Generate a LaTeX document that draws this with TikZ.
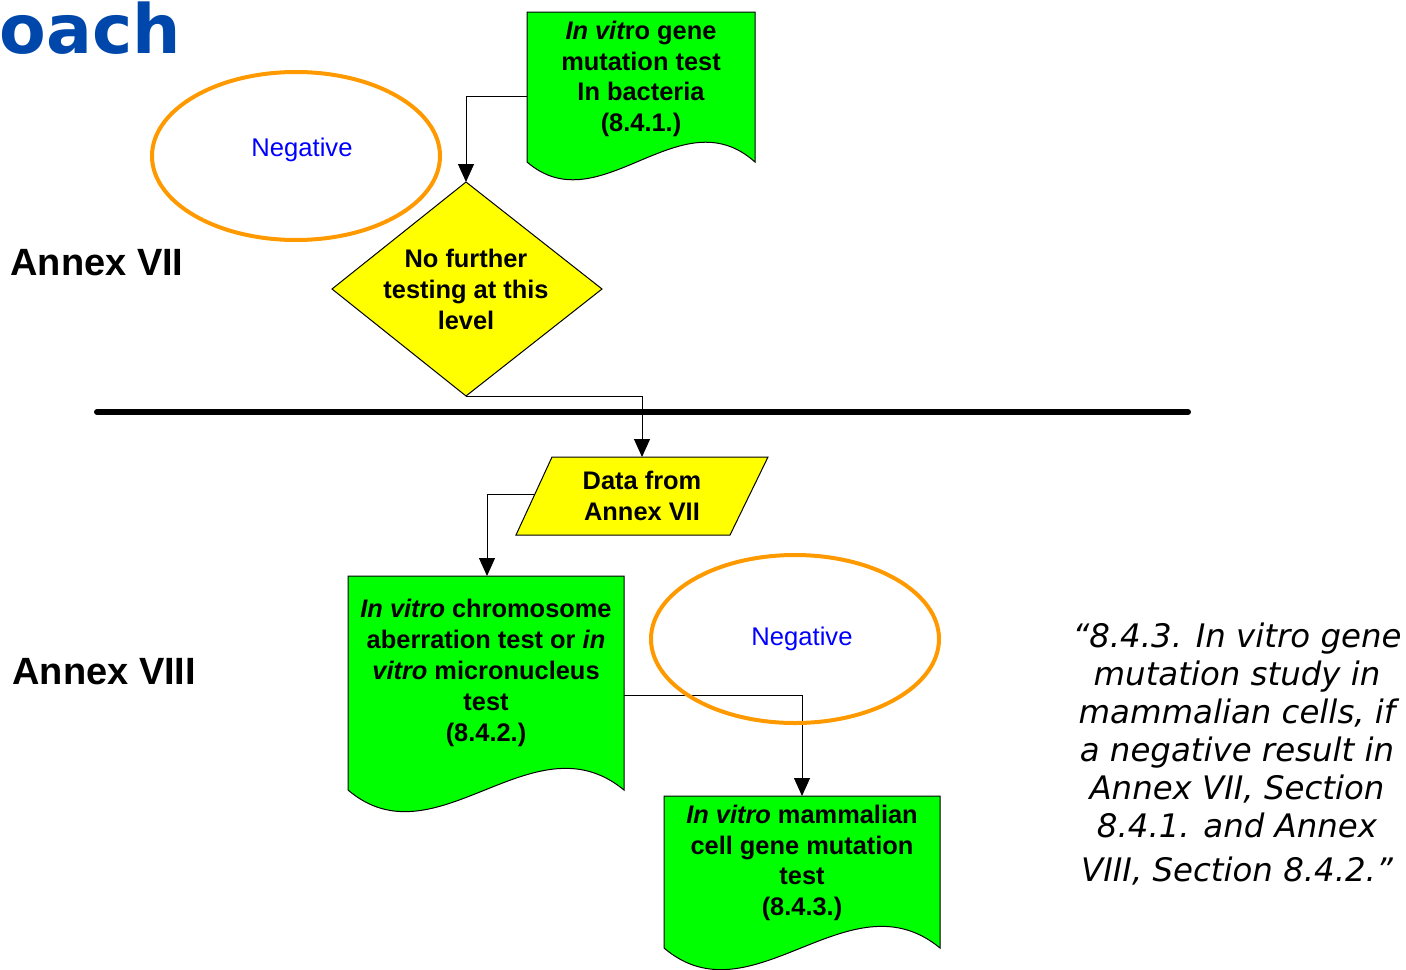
\documentclass[tikz,border=0pt]{standalone}
\usepackage{fontspec}
\setmainfont{Liberation Sans}
\newfontfamily\verd{DejaVu Sans}[ItalicFont={DejaVu Sans Oblique},BoldFont={DejaVu Sans Bold}]
\usetikzlibrary{arrows.meta,shapes.geometric,calc}
\definecolor{docgreen}{RGB}{0,255,0}
\definecolor{decyellow}{RGB}{255,255,0}
\definecolor{negorange}{RGB}{255,153,0}
\definecolor{negblue}{RGB}{0,0,255}
\definecolor{titleblue}{RGB}{0,71,171}
\begin{document}
\begin{tikzpicture}[x=0.5pt,y=-0.5pt,
  shapeline/.style={draw=black,line width=0.5pt},
  docbox/.style={shapeline,fill=docgreen},
  decbox/.style={shapeline,fill=decyellow},
  boxtext/.style={align=center,font=\bfseries\fontsize{12.7pt}{15.4pt}\selectfont,inner sep=0pt},
  negring/.style={ellipse,draw=negorange,line width=2pt,minimum width=144pt,minimum height=84pt,inner sep=0pt},
  negtext/.style={text=negblue,font=\fontsize{12.8pt}{14pt}\selectfont,inner sep=0pt},
  conn/.style={draw=black,line width=0.5pt,-{Triangle[length=9pt,width=8pt]}},
  annex/.style={anchor=west,font=\bfseries\fontsize{19pt}{22pt}\selectfont,inner sep=0pt},
  quote/.style={align=center,font=\verd\itshape\fontsize{16.2pt}{19pt}\selectfont,inner sep=0pt}
]
\useasboundingbox (0,0) rectangle (1406,969);

% title fragment
\node[anchor=base west,inner sep=0pt,text=titleblue,font=\verd\bfseries\fontsize{34pt}{38pt}\selectfont] (title) at (-1,53) {oach};

% annex labels
\node[annex] (annex7) at (10,263) {Annex VII};
\node[annex] (annex8) at (12,672) {Annex VIII};

% thick separator
\coordinate (sepL) at (97,412);
\coordinate (sepR) at (1188,412);
\draw[line width=3pt,line cap=round] (sepL) -- (sepR);

% negative ellipse 1
\node[negring] (neg1) at (296,156) {};
\node[negtext] (neg1t) at (302,150) {Negative};

% document 1 (8.4.1)
\path[docbox] (755,162) -- (755,12) -- (527,12) -- (527,162)
   .. controls (600,225) and (680,95) .. (755,162) -- cycle;
\coordinate (doc1w) at (527,96);
\node[boxtext] (doc1) at (641,79) {{\itshape In vit}ro gene\\mutation test\\In bacteria\\(8.4.1.)};

% decision diamond
\coordinate (dmtop) at (466,182);
\coordinate (dmleft) at (332,289);
\coordinate (dmbot) at (466,396);
\coordinate (dmright) at (602,289);
\path[decbox] (dmtop) -- (dmright) -- (dmbot) -- (dmleft) -- cycle;
\node[boxtext,font=\bfseries\fontsize{12.7pt}{15.5pt}\selectfont] (dec) at (466,289) {No further\\testing at this\\level};

% parallelogram
\coordinate (ptop) at (642,457);
\coordinate (pw) at (535,494);
\path[decbox] (552,457) -- (768,457) -- (730,535) -- (516,535) -- cycle;
\node[boxtext] (data) at (642,496) {Data from\\Annex VII};

% document 2 (8.4.2)
\path[docbox] (624,790) -- (624,576) -- (348,576) -- (348,790)
   .. controls (436,865) and (533,715) .. (624,790) -- cycle;
\coordinate (doc2top) at (487,576);
\coordinate (doc2e) at (624,695);
\node[boxtext,font=\bfseries\fontsize{12.7pt}{15.5pt}\selectfont] (doc2) at (486,673) {{\itshape In vitro} chromosome\\aberration test or {\itshape in}\\{\itshape vitro} micronucleus\\test\\(8.4.2.)};

% document 3 (8.4.3)
\path[docbox] (940,948) -- (940,796) -- (664,796) -- (664,948)
   .. controls (752,1023) and (849,873) .. (940,948) -- cycle;
\coordinate (doc3top) at (802,796);
\node[boxtext] (doc3) at (802,863) {{\itshape In vitro} mammalian\\cell gene mutation\\test\\(8.4.3.)};

% connectors
\draw[conn] (doc1w) -| (dmtop);
\draw[conn] (dmbot) -| (ptop);
\draw[conn] (pw) -| (doc2top);
\draw[conn] (doc2e) -| (doc3top);

% negative ellipse 2
\node[negring] (neg2) at (795,639) {};
\node[negtext] (neg2t) at (802,639) {Negative};

% quote
\node[quote] (quote) at (1237,754) {“8.4.3. In vitro gene\\mutation study in\\mammalian cells, if\\a negative result in\\Annex VII, Section\\8.4.1. and Annex\\[3pt]VIII, Section 8.4.2.”};
\end{tikzpicture}
\end{document}
